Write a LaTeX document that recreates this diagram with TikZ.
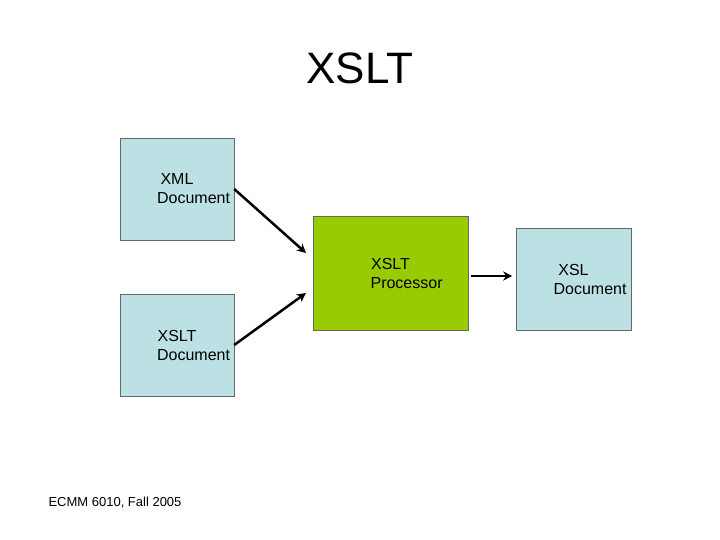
\documentclass[tikz,border=0pt]{standalone}
\usepackage{fontspec}
\setmainfont{Liberation Sans}
\usetikzlibrary{positioning, arrows.meta}

\begin{document}
\begin{tikzpicture}[
    x=1pt, y=-1pt, >=Stealth,
    docbox/.style={draw=black!60, fill=cyan!15!blue!5!white, text width=1.4cm, align=center, font=\fontsize{16}{19}\selectfont, inner sep=0pt},
    flow/.style={->, line width=2.5pt, >={Stealth[length=9pt,width=9pt]}}
]
    \definecolor{lightdoc}{HTML}{BCE1E4}
    \definecolor{procgreen}{HTML}{99CC00}
    \useasboundingbox (0,0) rectangle (720,540);

    % Title
    \node[font=\fontsize{44}{50}\selectfont] (title) at (360,68) {XSLT};

    % Documents
    \node[docbox, fill=lightdoc, minimum width=114pt, minimum height=102pt] (xml) at (177,189) {XML\\Document};
    \node[docbox, fill=lightdoc, minimum width=114pt, minimum height=102pt] (xsltdoc) at (177,345) {XSLT\\Document};
    \node[docbox, fill=procgreen, minimum width=155pt, minimum height=114pt] (proc) at (390.5,273) {XSLT\\Processor};
    \node[docbox, fill=lightdoc, minimum width=115pt, minimum height=102pt] (xsl) at (573.5,279) {XSL\\Document};

    % Transitions
    \coordinate (in1) at (306,253);
    \coordinate (in2) at (306,293);
    \draw[flow] (xml.east) -- (in1);
    \draw[flow] (xsltdoc.east) -- (in2);
    \draw[flow] (proc.east |- 0,276) ++(3,0) coordinate (out0) -- ++(41,0) coordinate (out1);

    % Footer
    \node[font=\fontsize{13}{15}\selectfont] (footer) at (115,503) {ECMM 6010, Fall 2005};
\end{tikzpicture}
\end{document}
